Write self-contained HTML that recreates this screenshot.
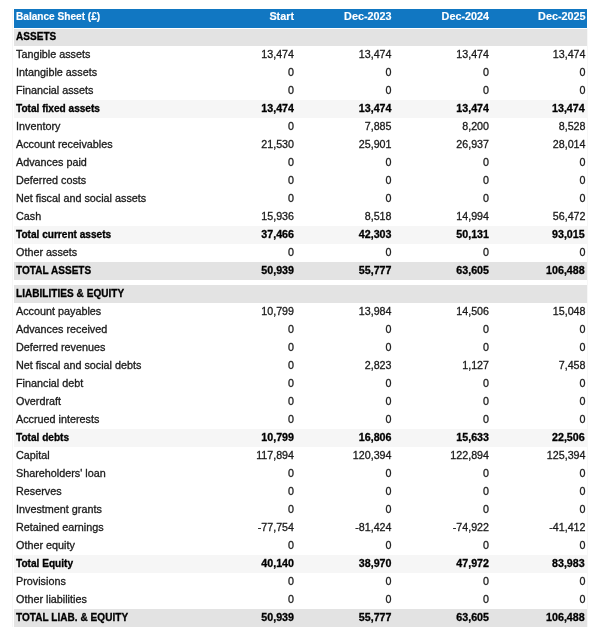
<!DOCTYPE html>
<html><head><meta charset="utf-8"><title>Balance Sheet</title>
<style>
*{margin:0;padding:0;box-sizing:border-box}
html,body{width:600px;height:638px;background:#fff;overflow:hidden}
body{font-family:"Liberation Sans",sans-serif;font-size:10.8px;color:#1a1a1a;position:relative;-webkit-text-stroke:0.3px #1a1a1a}
.tb{position:absolute;left:14px;width:573px;will-change:transform}
.r{position:relative;height:18px;white-space:nowrap}
.r span{position:absolute;top:-1px;line-height:18px}
.l{left:2px}
.v{text-align:right;font-size:10.7px}
.v1{right:293px}.v2{right:195.5px}.v3{right:98px}.v4{right:1.5px}
.hd{height:19px;background:#1177c2;color:#fff;font-weight:bold;font-size:10.3px}
.hd{-webkit-text-stroke:0.15px #fff}
.hd span{line-height:19px;top:-2px}
.hd .l{left:2px;font-size:10.1px}
.hd .v{font-size:10.8px}
.sec,.tot,.gt{color:#000;font-weight:bold;font-size:10px;-webkit-text-stroke:0.3px #000}
.sec .l,.tot .l,.gt .l{top:0;left:2px}
.sec .l,.gt .l{letter-spacing:0.05px}
.tot .l{font-size:10.1px}
.sec .v,.tot .v,.gt .v{font-size:10.7px}
.tot .v4,.gt .v4{right:2.3px}
.sec{background:#e3e3e3}
.first{border-top:1px solid #fff}
.first .l{top:-1px}
.tot{background:#f6f6f6}
.gt{background:#e3e3e3}
</style></head><body>
<div style="position:absolute;left:12px;top:9px;width:1px;height:618px;background:#f6f6f6"></div>
<div style="position:absolute;left:587px;top:28px;width:1px;height:599px;background:#f7f7f7"></div>
<div class="tb" style="top:9px">
<div class="r hd"><span class="l">Balance Sheet (£)</span><span class="v v1">Start</span><span class="v v2">Dec-2023</span><span class="v v3">Dec-2024</span><span class="v v4">Dec-2025</span></div>
<div class="r sec first"><span class="l">ASSETS</span></div>
<div class="r "><span class="l">Tangible assets</span><span class="v v1">13,474</span><span class="v v2">13,474</span><span class="v v3">13,474</span><span class="v v4">13,474</span></div>
<div class="r "><span class="l">Intangible assets</span><span class="v v1">0</span><span class="v v2">0</span><span class="v v3">0</span><span class="v v4">0</span></div>
<div class="r "><span class="l">Financial assets</span><span class="v v1">0</span><span class="v v2">0</span><span class="v v3">0</span><span class="v v4">0</span></div>
<div class="r tot"><span class="l">Total fixed assets</span><span class="v v1">13,474</span><span class="v v2">13,474</span><span class="v v3">13,474</span><span class="v v4">13,474</span></div>
<div class="r "><span class="l">Inventory</span><span class="v v1">0</span><span class="v v2">7,885</span><span class="v v3">8,200</span><span class="v v4">8,528</span></div>
<div class="r "><span class="l">Account receivables</span><span class="v v1">21,530</span><span class="v v2">25,901</span><span class="v v3">26,937</span><span class="v v4">28,014</span></div>
<div class="r "><span class="l">Advances paid</span><span class="v v1">0</span><span class="v v2">0</span><span class="v v3">0</span><span class="v v4">0</span></div>
<div class="r "><span class="l">Deferred costs</span><span class="v v1">0</span><span class="v v2">0</span><span class="v v3">0</span><span class="v v4">0</span></div>
<div class="r "><span class="l">Net fiscal and social assets</span><span class="v v1">0</span><span class="v v2">0</span><span class="v v3">0</span><span class="v v4">0</span></div>
<div class="r "><span class="l">Cash</span><span class="v v1">15,936</span><span class="v v2">8,518</span><span class="v v3">14,994</span><span class="v v4">56,472</span></div>
<div class="r tot"><span class="l">Total current assets</span><span class="v v1">37,466</span><span class="v v2">42,303</span><span class="v v3">50,131</span><span class="v v4">93,015</span></div>
<div class="r "><span class="l">Other assets</span><span class="v v1">0</span><span class="v v2">0</span><span class="v v3">0</span><span class="v v4">0</span></div>
<div class="r gt"><span class="l">TOTAL ASSETS</span><span class="v v1">50,939</span><span class="v v2">55,777</span><span class="v v3">63,605</span><span class="v v4">106,488</span></div>
</div>
<div class="tb" style="top:285px">
<div class="r sec"><span class="l">LIABILITIES &amp; EQUITY</span></div>
<div class="r "><span class="l">Account payables</span><span class="v v1">10,799</span><span class="v v2">13,984</span><span class="v v3">14,506</span><span class="v v4">15,048</span></div>
<div class="r "><span class="l">Advances received</span><span class="v v1">0</span><span class="v v2">0</span><span class="v v3">0</span><span class="v v4">0</span></div>
<div class="r "><span class="l">Deferred revenues</span><span class="v v1">0</span><span class="v v2">0</span><span class="v v3">0</span><span class="v v4">0</span></div>
<div class="r "><span class="l">Net fiscal and social debts</span><span class="v v1">0</span><span class="v v2">2,823</span><span class="v v3">1,127</span><span class="v v4">7,458</span></div>
<div class="r "><span class="l">Financial debt</span><span class="v v1">0</span><span class="v v2">0</span><span class="v v3">0</span><span class="v v4">0</span></div>
<div class="r "><span class="l">Overdraft</span><span class="v v1">0</span><span class="v v2">0</span><span class="v v3">0</span><span class="v v4">0</span></div>
<div class="r "><span class="l">Accrued interests</span><span class="v v1">0</span><span class="v v2">0</span><span class="v v3">0</span><span class="v v4">0</span></div>
<div class="r tot"><span class="l">Total debts</span><span class="v v1">10,799</span><span class="v v2">16,806</span><span class="v v3">15,633</span><span class="v v4">22,506</span></div>
<div class="r "><span class="l">Capital</span><span class="v v1">117,894</span><span class="v v2">120,394</span><span class="v v3">122,894</span><span class="v v4">125,394</span></div>
<div class="r "><span class="l">Shareholders' loan</span><span class="v v1">0</span><span class="v v2">0</span><span class="v v3">0</span><span class="v v4">0</span></div>
<div class="r "><span class="l">Reserves</span><span class="v v1">0</span><span class="v v2">0</span><span class="v v3">0</span><span class="v v4">0</span></div>
<div class="r "><span class="l">Investment grants</span><span class="v v1">0</span><span class="v v2">0</span><span class="v v3">0</span><span class="v v4">0</span></div>
<div class="r "><span class="l">Retained earnings</span><span class="v v1">-77,754</span><span class="v v2">-81,424</span><span class="v v3">-74,922</span><span class="v v4">-41,412</span></div>
<div class="r "><span class="l">Other equity</span><span class="v v1">0</span><span class="v v2">0</span><span class="v v3">0</span><span class="v v4">0</span></div>
<div class="r tot"><span class="l">Total Equity</span><span class="v v1">40,140</span><span class="v v2">38,970</span><span class="v v3">47,972</span><span class="v v4">83,983</span></div>
<div class="r "><span class="l">Provisions</span><span class="v v1">0</span><span class="v v2">0</span><span class="v v3">0</span><span class="v v4">0</span></div>
<div class="r "><span class="l">Other liabilities</span><span class="v v1">0</span><span class="v v2">0</span><span class="v v3">0</span><span class="v v4">0</span></div>
<div class="r gt"><span class="l">TOTAL LIAB. &amp; EQUITY</span><span class="v v1">50,939</span><span class="v v2">55,777</span><span class="v v3">63,605</span><span class="v v4">106,488</span></div>
</div>
</body></html>
